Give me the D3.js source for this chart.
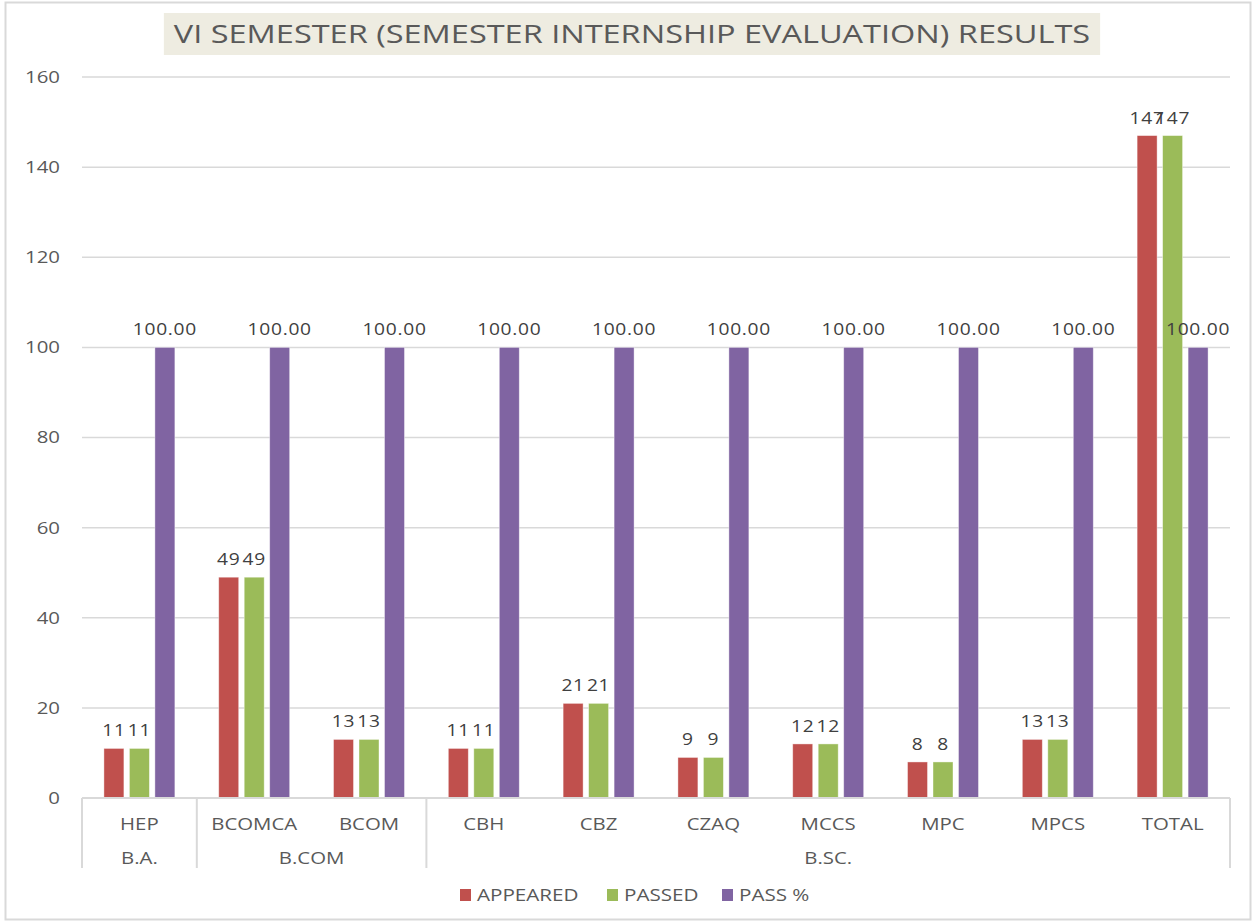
<!DOCTYPE html>
<html>
<head>
<meta charset="utf-8">
<script src="https://cdn.jsdelivr.net/npm/d3@7"></script>
<style>
  body { margin: 0; background: #fff; }
</style>
</head>
<body>
<div id="chart"></div>
<script>
const courses = ["HEP", "BCOMCA", "BCOM", "CBH", "CBZ", "CZAQ", "MCCS", "MPC", "MPCS", "TOTAL"];
const groups = [
    { name: "B.A.", from: "HEP", to: "HEP" },
    { name: "B.COM", from: "BCOMCA", to: "BCOM" },
    { name: "B.SC.", from: "CBH", to: "TOTAL" }
];
const appeared = [11, 49, 13, 11, 21, 9, 12, 8, 13, 147];
const passed = [11, 49, 13, 11, 21, 9, 12, 8, 13, 147];
const passPct = [100, 100, 100, 100, 100, 100, 100, 100, 100, 100];
const seriesNames = ["APPEARED", "PASSED", "PASS %"];
const yTicks = [0, 20, 40, 60, 80, 100, 120, 140, 160];

const colors = { "APPEARED": "#C0504D", "PASSED": "#9BBB59", "PASS %": "#8064A2" };
const series = [
    { name: "APPEARED", values: appeared, fmt: d3.format("d") },
    { name: "PASSED", values: passed, fmt: d3.format("d") },
    { name: "PASS %", values: passPct, fmt: d3.format(".2f") }
];

const width = 1255, height = 923;
const plotL = 82, plotR = 1230, plotT = 77, plotB = 798;
const textCol = "#595959";
const sx = 1.2; // the source picture is stretched sideways

const svg = d3.select("#chart").append("svg")
    .attr("width", width)
    .attr("height", height)
    .style("font-family", "'Open Sans', sans-serif");

// chart border
svg.append("rect")
    .attr("x", 5.5).attr("y", 2.5)
    .attr("width", 1245).attr("height", 917)
    .attr("fill", "#fff")
    .attr("stroke", "#D9D9D9")
    .attr("stroke-width", 2);

const x0 = d3.scaleBand().domain(courses).range([plotL, plotR]).padding(0);
const x1 = d3.scaleBand().domain(seriesNames).range([0, x0.bandwidth()])
    .paddingInner(0.216).paddingOuter(0.86);
const y = d3.scaleLinear().domain([0, 160]).range([plotB, plotT]);

// gridlines
svg.append("g")
    .selectAll("line")
    .data(yTicks.slice(1))
    .join("line")
    .attr("x1", plotL).attr("x2", plotR)
    .attr("y1", d => y(d)).attr("y2", d => y(d))
    .attr("stroke", "#D9D9D9")
    .attr("stroke-width", 1.5);

// y axis labels
svg.append("g")
    .selectAll("text")
    .data(yTicks)
    .join("text")
    .attr("transform", d => `translate(60,${y(d)}) scale(${sx},1)`)
    .attr("dy", "0.35em")
    .attr("text-anchor", "end")
    .attr("fill", textCol)
    .style("font-size", "17px")
    .text(d => d);

// bars
const bars = svg.append("g");
series.forEach(s => {
    bars.append("g")
        .selectAll("rect")
        .data(s.values)
        .join("rect")
        .attr("x", (d, i) => x0(courses[i]) + x1(s.name))
        .attr("y", d => y(d))
        .attr("width", x1.bandwidth())
        .attr("height", d => y(0) - y(d))
        .attr("fill", colors[s.name])
        .attr("stroke", "#fff")
        .attr("stroke-opacity", 0.5)
        .attr("stroke-width", 0.8);
});

// data labels
series.forEach(s => {
    svg.append("g")
        .selectAll("text")
        .data(s.values)
        .join("text")
        .attr("transform", (d, i) => {
            const cx = x0(courses[i]) + x1(s.name) + x1.bandwidth() / 2;
            return `translate(${cx},${y(d) - 12}) scale(${sx},1)`;
        })
        .attr("text-anchor", "middle")
        .attr("fill", "#404040")
        .style("font-size", "16px")
        .style("letter-spacing", "0.6px")
        .text(d => s.fmt(d));
});

// x axis baseline
const axisCol = "#D9D9D9";
svg.append("line")
    .attr("x1", plotL).attr("x2", plotR)
    .attr("y1", plotB).attr("y2", plotB)
    .attr("stroke", axisCol).attr("stroke-width", 2);

// group separators
const seps = [plotL, plotR];
groups.forEach(g => { if (x0(g.from) > plotL) seps.push(x0(g.from)); });
svg.append("g")
    .selectAll("line")
    .data(seps)
    .join("line")
    .attr("x1", d => d).attr("x2", d => d)
    .attr("y1", plotB).attr("y2", 868)
    .attr("stroke", axisCol).attr("stroke-width", 2);

// course labels
svg.append("g")
    .selectAll("text")
    .data(courses)
    .join("text")
    .attr("transform", d => `translate(${x0(d) + x0.bandwidth() / 2},830) scale(${sx},1)`)
    .attr("text-anchor", "middle")
    .attr("fill", textCol)
    .style("font-size", "17px")
    .text(d => d);

// group labels
svg.append("g")
    .selectAll("text")
    .data(groups)
    .join("text")
    .attr("transform", d => `translate(${(x0(d.from) + x0(d.to) + x0.bandwidth()) / 2},864) scale(${sx},1)`)
    .attr("text-anchor", "middle")
    .attr("fill", textCol)
    .style("font-size", "17px")
    .text(d => d.name);

// title
const titleG = svg.append("g");
const titleBox = titleG.append("rect").attr("fill", "#EEECE1");
const title = titleG.append("text")
    .attr("transform", `translate(632,43) scale(1.3,1)`)
    .attr("text-anchor", "middle")
    .attr("fill", textCol)
    .style("font-size", "25px")
    .text("VI SEMESTER (SEMESTER INTERNSHIP EVALUATION) RESULTS");
const tw = title.node().getBBox().width * 1.3;
titleBox.attr("x", 632 - tw / 2 - 10).attr("y", 13)
    .attr("width", tw + 20).attr("height", 42);

// legend
const legendX = [460, 607, 722];
const legend = svg.append("g")
    .selectAll("g")
    .data(seriesNames)
    .join("g")
    .attr("transform", (d, i) => `translate(${legendX[i]},895)`);
legend.append("rect")
    .attr("x", 0).attr("y", -6)
    .attr("width", 11).attr("height", 12)
    .attr("fill", d => colors[d]);
legend.append("text")
    .attr("transform", `translate(17,0) scale(1.25,1)`)
    .attr("dy", "0.35em")
    .attr("fill", textCol)
    .style("font-size", "16.5px")
    .text(d => d);
</script>
</body>
</html>
